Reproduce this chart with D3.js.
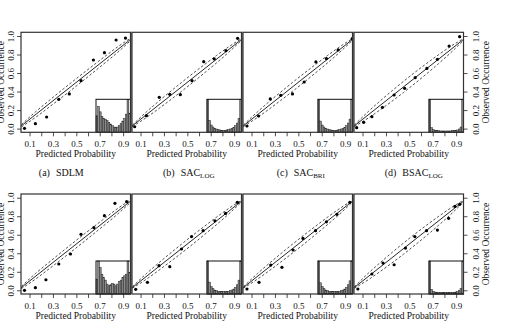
<!DOCTYPE html>
<html>
<head>
<meta charset="utf-8">
<script src="https://cdn.jsdelivr.net/npm/d3@7"></script>
<style>
body { margin: 0; background: #fff; }
svg { display: block; font-family: "Liberation Serif", "DejaVu Serif", serif; }
</style>
</head>
<body>
<script>
// captions of the four columns
const capLetter = ["(a)", "(b)", "(c)", "(d)"];
const capMain   = ["SDLM", "SAC", "SAC", "BSAC"];
const capSub    = ["", "LOG", "BRI", "LOG"];

const xTicks      = [0.1, 0.2, 0.3, 0.4, 0.5, 0.6, 0.7, 0.8, 0.9];
const xTickLabels = ["0.1", "", "0.3", "", "0.5", "", "0.7", "", "0.9"];
const yTicks      = [0, 0.2, 0.4, 0.6, 0.8, 1.0];

// mean predicted probability / observed occurrence per bin, top row
const predTop = [
    [0.057, 0.15, 0.246, 0.35, 0.44, 0.54, 0.646, 0.74, 0.84, 0.92],
    [0.05, 0.15, 0.26, 0.35, 0.44, 0.54, 0.64, 0.73, 0.83, 0.93],
    [0.061, 0.16, 0.26, 0.35, 0.45, 0.55, 0.65, 0.74, 0.84, 0.96],
    [0.05, 0.11, 0.18, 0.27, 0.37, 0.46, 0.55, 0.65, 0.74, 0.84, 0.93],
];
const obsTop = [
    [0.003, 0.053, 0.125, 0.316, 0.374, 0.518, 0.741, 0.82, 0.957, 0.978],
    [0.02, 0.14, 0.338, 0.37, 0.366, 0.518, 0.723, 0.752, 0.842, 0.975],
    [0.028, 0.136, 0.32, 0.359, 0.374, 0.503, 0.72, 0.756, 0.85, 0.971],
    [0.01, 0.068, 0.129, 0.23, 0.363, 0.435, 0.55, 0.65, 0.748, 0.892, 0.993],
];
// bottom row
const predBottom = [
    [0.057, 0.15, 0.24, 0.35, 0.45, 0.54, 0.65, 0.74, 0.83, 0.93],
    [0.059, 0.159, 0.258, 0.35, 0.45, 0.536, 0.635, 0.736, 0.827, 0.927],
    [0.061, 0.164, 0.264, 0.36, 0.455, 0.54, 0.647, 0.74, 0.83, 0.94],
    [0.06, 0.18, 0.275, 0.37, 0.467, 0.547, 0.647, 0.74, 0.836, 0.89, 0.93],
];
const obsBottom = [
    [0.0, 0.028, 0.114, 0.284, 0.392, 0.604, 0.676, 0.806, 0.939, 0.957],
    [0.01, 0.086, 0.266, 0.255, 0.446, 0.58, 0.644, 0.75, 0.83, 0.95],
    [0.014, 0.086, 0.272, 0.248, 0.435, 0.56, 0.644, 0.74, 0.82, 0.95],
    [0.014, 0.176, 0.294, 0.276, 0.456, 0.58, 0.644, 0.65, 0.777, 0.906, 0.928],
];

// dashed band around the diagonal: half width read at these x
const bandX = [0.03, 0.15, 0.25, 0.35, 0.45, 0.55, 0.65, 0.75, 0.85, 0.97];
const bandHalf = [
    [0.012, 0.03, 0.035, 0.038, 0.04, 0.04, 0.038, 0.035, 0.03, 0.012],
    [0.008, 0.03, 0.04, 0.045, 0.048, 0.048, 0.045, 0.04, 0.03, 0.008],
    [0.008, 0.03, 0.04, 0.045, 0.048, 0.048, 0.045, 0.04, 0.03, 0.008],
    [0.008, 0.035, 0.048, 0.056, 0.06, 0.06, 0.056, 0.048, 0.035, 0.008],
];

// inset histograms of predicted probability, 20 bins, relative height
const histTop = [
    [0.50, 0.78, 0.62, 0.48, 0.42, 0.40, 0.36, 0.30, 0.25, 0.20, 0.16, 0.15, 0.16, 0.20, 0.26, 0.34, 0.42, 0.55, 1.0, 0.58],
    [1.0, 0.36, 0.22, 0.16, 0.12, 0.10, 0.08, 0.07, 0.06, 0.06, 0.06, 0.07, 0.08, 0.10, 0.12, 0.15, 0.20, 0.28, 0.42, 1.0],
    [1.0, 0.34, 0.22, 0.16, 0.12, 0.10, 0.08, 0.07, 0.06, 0.06, 0.06, 0.07, 0.08, 0.10, 0.12, 0.15, 0.20, 0.28, 0.40, 1.0],
    [1.0, 0.14, 0.08, 0.06, 0.05, 0.05, 0.04, 0.04, 0.04, 0.04, 0.04, 0.04, 0.04, 0.05, 0.05, 0.06, 0.07, 0.10, 0.16, 1.0],
];
const histBottom = [
    [0.45, 1.0, 0.80, 0.60, 0.50, 0.42, 0.30, 0.25, 0.28, 0.32, 0.30, 0.25, 0.30, 0.38, 0.42, 0.50, 0.55, 0.60, 1.0, 0.65],
    [1.0, 0.36, 0.22, 0.16, 0.12, 0.10, 0.08, 0.07, 0.07, 0.08, 0.07, 0.07, 0.08, 0.10, 0.12, 0.15, 0.20, 0.28, 0.42, 1.0],
    [1.0, 0.34, 0.22, 0.16, 0.12, 0.10, 0.08, 0.07, 0.07, 0.08, 0.07, 0.07, 0.08, 0.10, 0.12, 0.15, 0.20, 0.28, 0.40, 1.0],
    [1.0, 0.14, 0.08, 0.06, 0.05, 0.05, 0.05, 0.04, 0.05, 0.05, 0.04, 0.05, 0.05, 0.05, 0.05, 0.06, 0.07, 0.10, 0.16, 1.0],
];

const SIZE_X = 511;
const SIZE_Y = 324;
const W = 109.5, H = 100;
const STEP = 111;
const LEFT = 21;
const rowTop = [32.3, 194];
const capOffset = [-14.5, 2, 3, 5];

const svg = d3.select("body").append("svg")
    .attr("width", SIZE_X)
    .attr("height", SIZE_Y);

const x = d3.scaleLinear().domain([0.027, 0.963]).range([0, W]);
const y = d3.scaleLinear().domain([-0.04, 1.04]).range([H, 0]);

// inset scales
const INSET_L = 75, INSET_H = 33;
const hx = d3.scaleLinear().domain([0, 1]).range([INSET_L, W]);
const hy = d3.scaleLinear().domain([0, 1]).range([H, H - INSET_H]);

const line = d3.line().x(d => x(d[0])).y(d => y(d[1]));
const band = d3.line().curve(d3.curveMonotoneX).x(d => x(d[0])).y(d => y(d[1]));

svg.append("defs").append("clipPath")
    .attr("id", "clip")
    .append("rect")
    .attr("width", W).attr("height", H);

function styleAxis(g) {
    g.select(".domain").remove();
    g.selectAll("line").attr("stroke", "#222").attr("stroke-width", 0.8);
    g.selectAll("text")
        .attr("fill", "#111")
        .style("font-family", '"Liberation Serif", serif')
        .style("font-size", "9px");
    g.attr("font-family", null);
}

for (let r = 0; r < 2; r++) {
    const pred = r === 0 ? predTop : predBottom;
    const obs  = r === 0 ? obsTop : obsBottom;
    const hist = r === 0 ? histTop : histBottom;

    for (let i = 0; i < 4; i++) {
        const left = LEFT + i * STEP;
        const g = svg.append("g")
            .attr("transform", `translate(${left},${rowTop[r]})`);

        // grey strip between neighbouring panels
        if (i < 3) {
            g.append("rect")
                .attr("x", W).attr("y", 0)
                .attr("width", STEP - W).attr("height", H)
                .attr("fill", "#8a8a8a");
        }

        const plot = g.append("g").attr("clip-path", "url(#clip)");

        // dashed band
        const up = bandX.map((v, k) => [v, v + bandHalf[i][k]]);
        const lo = bandX.map((v, k) => [v, v - bandHalf[i][k]]);
        [up, lo].forEach(pts => {
            plot.append("path")
                .attr("d", band(pts))
                .attr("fill", "none")
                .attr("stroke", "#222")
                .attr("stroke-width", 0.8)
                .attr("stroke-dasharray", "2.5,2");
        });

        // diagonal
        const [d0, d1] = x.domain();
        plot.append("path")
            .attr("d", line([[d0, d0], [d1, d1]]))
            .attr("fill", "none")
            .attr("stroke", "#111")
            .attr("stroke-width", 0.9);

        // calibration points
        plot.selectAll(".pt")
            .data(pred[i].map((p, k) => [p, obs[i][k]]))
            .enter().append("circle")
            .attr("class", "pt")
            .attr("cx", d => x(d[0]))
            .attr("cy", d => y(d[1]))
            .attr("r", 1.6)
            .attr("fill", "#000");

        // inset histogram
        g.append("rect")
            .attr("x", INSET_L).attr("y", H - INSET_H)
            .attr("width", W - INSET_L).attr("height", INSET_H)
            .attr("fill", "#fff");
        g.selectAll(".bar")
            .data(hist[i])
            .enter().append("rect")
            .attr("class", "bar")
            .attr("x", (d, k) => hx(k / 20))
            .attr("y", d => hy(d))
            .attr("width", hx(1 / 20) - hx(0))
            .attr("height", d => hy(0) - hy(d))
            .attr("fill", "#8c8c8c")
            .attr("stroke", "#222")
            .attr("stroke-width", 0.5);
        g.append("rect")
            .attr("x", INSET_L).attr("y", H - INSET_H)
            .attr("width", W - INSET_L).attr("height", INSET_H)
            .attr("fill", "none")
            .attr("stroke", "#111")
            .attr("stroke-width", 1);

        // frame
        g.append("rect")
            .attr("width", W).attr("height", H)
            .attr("fill", "none")
            .attr("stroke", "#333")
            .attr("stroke-width", 1.2);

        // x axis
        g.append("g")
            .attr("transform", `translate(0,${H})`)
            .call(d3.axisBottom(x).tickValues(xTicks).tickSize(4).tickPadding(4.5)
                .tickFormat((d, k) => xTickLabels[k]))
            .call(styleAxis);

        g.append("text")
            .attr("x", W / 2).attr("y", H + 25.2)
            .attr("text-anchor", "middle")
            .attr("fill", "#111")
            .style("font-size", "9.5px")
            .text("Predicted Probability");

        // y axis on outer panels
        if (i === 0) {
            g.append("g")
                .call(d3.axisLeft(y).tickValues(yTicks).tickSize(4).tickFormat(d3.format(".1f")))
                .call(styleAxis)
                .selectAll("text")
                .attr("transform", "rotate(-90)")
                .attr("x", 0).attr("y", -7.5).attr("dy", 0)
                .attr("text-anchor", "middle");
            // the reference crops this label at its left edge
            svg.append("text")
                .attr("transform", `translate(4,${rowTop[r] + H / 2}) rotate(-90)`)
                .attr("text-anchor", "middle")
                .attr("fill", "#111")
                .style("font-size", "9.5px")
                .text("Observed Occurrence");
        }
        if (i === 3) {
            g.append("g")
                .attr("transform", `translate(${W},0)`)
                .call(d3.axisRight(y).tickValues(yTicks).tickSize(4).tickFormat(d3.format(".1f")))
                .call(styleAxis)
                .selectAll("text")
                .attr("transform", "rotate(-90)")
                .attr("x", 0).attr("y", 15).attr("dy", 0)
                .attr("text-anchor", "middle");
            svg.append("text")
                .attr("transform", `translate(${left + W + 25.5},${rowTop[r] + H / 2}) rotate(-90)`)
                .attr("text-anchor", "middle")
                .attr("fill", "#111")
                .style("font-size", "9.5px")
                .text("Observed Occurrence");
        }

        // captions under the top row
        if (r === 0) {
            const cap = svg.append("text")
                .attr("x", left + W / 2 + capOffset[i])
                .attr("y", rowTop[r] + 143.2)
                .attr("text-anchor", "middle")
                .attr("fill", "#111")
                .style("font-size", "10px");
            cap.append("tspan").text(capLetter[i]);
            cap.append("tspan").attr("dx", 6).text(capMain[i]);
            if (capSub[i]) {
                cap.append("tspan")
                    .attr("dy", 2)
                    .style("font-size", "7px")
                    .text(capSub[i]);
            }
        }
    }
}
</script>
</body>
</html>
